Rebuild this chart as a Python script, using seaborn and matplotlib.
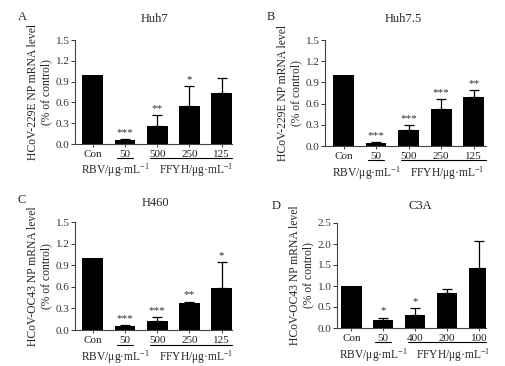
import matplotlib
matplotlib.use("Agg")
import matplotlib.pyplot as plt
import matplotlib.transforms as mtransforms
import numpy as np
import pandas as pd
import seaborn as sns

# values (fraction of control), upper SD and significance
groups_A = ["Con", "50", "500", "250", "125"]
mean_A = [1.00, 0.052, 0.265, 0.55, 0.73]
err_A = [0.0, 0.024, 0.155, 0.28, 0.22]
star_A = ["", "***", "**", "*", ""]

groups_B = ["Con", "50", "500", "250", "125"]
mean_B = [1.00, 0.04, 0.22, 0.52, 0.70]
err_B = [0.0, 0.015, 0.075, 0.14, 0.09]
star_B = ["", "***", "***", "***", "**"]

groups_C = ["Con", "50", "500", "250", "125"]
mean_C = [1.00, 0.05, 0.13, 0.37, 0.59]
err_C = [0.0, 0.02, 0.05, 0.025, 0.35]
star_C = ["", "***", "***", "**", "*"]

groups_D = ["Con", "50", "400", "200", "100"]
mean_D = [1.00, 0.20, 0.31, 0.83, 1.44]
err_D = [0.0, 0.05, 0.17, 0.10, 0.63]
star_D = ["", "*", "*", "", ""]

sns.set_theme(style="ticks")
plt.rcParams["font.family"] = ["Liberation Serif", "DejaVu Serif"]
plt.rcParams["mathtext.fontset"] = "custom"
plt.rcParams["mathtext.rm"] = "Liberation Serif"
plt.rcParams["mathtext.it"] = "Liberation Serif:italic"

W, H = 506, 366
fig = plt.figure(figsize=(W / 100, H / 100), dpi=100)

panels = [
    # letter, title, ylabel, groups, mean, err, stars,
    # axes rect px (left, top, right, bottom), xlim, ymax, ystep, letter xy, title xy
    ("A", "Huh7", "HCoV-229E NP mRNA level", groups_A, mean_A, err_A, star_A,
     (75, 40, 232, 144), (-0.55, 4.32), 1.5, 0.3, (22, 17), (155, 19)),
    ("B", "Huh7.5", "HCoV-229E NP mRNA level", groups_B, mean_B, err_B, star_B,
     (325, 40, 486, 146), (-0.57, 4.38), 1.5, 0.3, (271, 17), (403, 19)),
    ("C", "H460", "HCoV-OC43 NP mRNA level", groups_C, mean_C, err_C, star_C,
     (75, 222, 232, 330), (-0.55, 4.32), 1.5, 0.3, (22, 200), (155, 203)),
    ("D", "C3A", "HCoV-OC43 NP mRNA level", groups_D, mean_D, err_D, star_D,
     (337, 223, 486, 328), (-0.45, 4.22), 2.5, 0.5, (276, 206), (420, 206)),
]

for (letter, title, ylab, groups, mean, err, stars, rect, xlim, ymax, ystep,
     letter_pos, title_pos) in panels:
    l, t, r, b = rect
    ax = fig.add_axes([l / W, 1 - b / H, (r - l) / W, (b - t) / H])
    df = pd.DataFrame({"group": groups, "value": mean})
    sns.barplot(data=df, x="group", y="value", color="black", errorbar=None,
                width=0.64, ax=ax, saturation=1, linewidth=0)
    x = np.arange(len(groups))
    has = np.array(err) > 0
    ax.errorbar(x[has], np.array(mean)[has],
                yerr=[np.zeros(has.sum()), np.array(err)[has]], fmt="none",
                ecolor="black", elinewidth=0.9, capsize=3.5, capthick=0.9)
    for xi, m, e, s in zip(x, mean, err, stars):
        if s:
            ax.text(xi, m + e + ymax * 0.02, s, ha="center", va="bottom",
                    fontsize=8, color="#333333")
    ax.set_xlim(*xlim)
    ax.set_ylim(0, ymax)
    ticks = np.arange(0, ymax + 1e-9, ystep)
    ax.set_yticks(ticks)
    ax.set_yticklabels([f"{v:.1f}" for v in ticks])
    ax.set_xlabel("")
    ax.set_ylabel(ylab + "\n(% of control)", fontsize=8.4, labelpad=2.5,
                  linespacing=1.1)
    ax.tick_params(axis="x", length=2, width=0.6, pad=2.5, labelsize=8,
                   colors="#222222")
    ax.tick_params(axis="y", length=3, width=0.7, pad=1, labelsize=8,
                   colors="#333333")
    for sp in ["left", "bottom"]:
        ax.spines[sp].set_color("#444444")
        ax.spines[sp].set_linewidth(0.8)
    sns.despine(ax=ax)

    tr = mtransforms.blended_transform_factory(ax.transData, ax.transAxes)
    uy = -0.135
    ax.plot([0.75, 1.25], [uy, uy], color="black", lw=0.8, transform=tr,
            clip_on=False)
    ax.plot([1.77, xlim[1]], [uy, uy], color="black", lw=0.8, transform=tr,
            clip_on=False)
    ax.text(0.69, -0.255, r"RBV/μg·mL$^{-1}$", transform=tr, ha="center",
            va="center", fontsize=8.3)
    ax.text(3.2, -0.255, r"FFYH/μg·mL$^{-1}$", transform=tr, ha="center",
            va="center", fontsize=8.3)

    fig.text(letter_pos[0] / W, 1 - letter_pos[1] / H, letter, fontsize=9,
             ha="center", va="center")
    fig.text(title_pos[0] / W, 1 - title_pos[1] / H, title, fontsize=9,
             ha="center", va="center")

fig.savefig("out.png", dpi=100, facecolor="white")
